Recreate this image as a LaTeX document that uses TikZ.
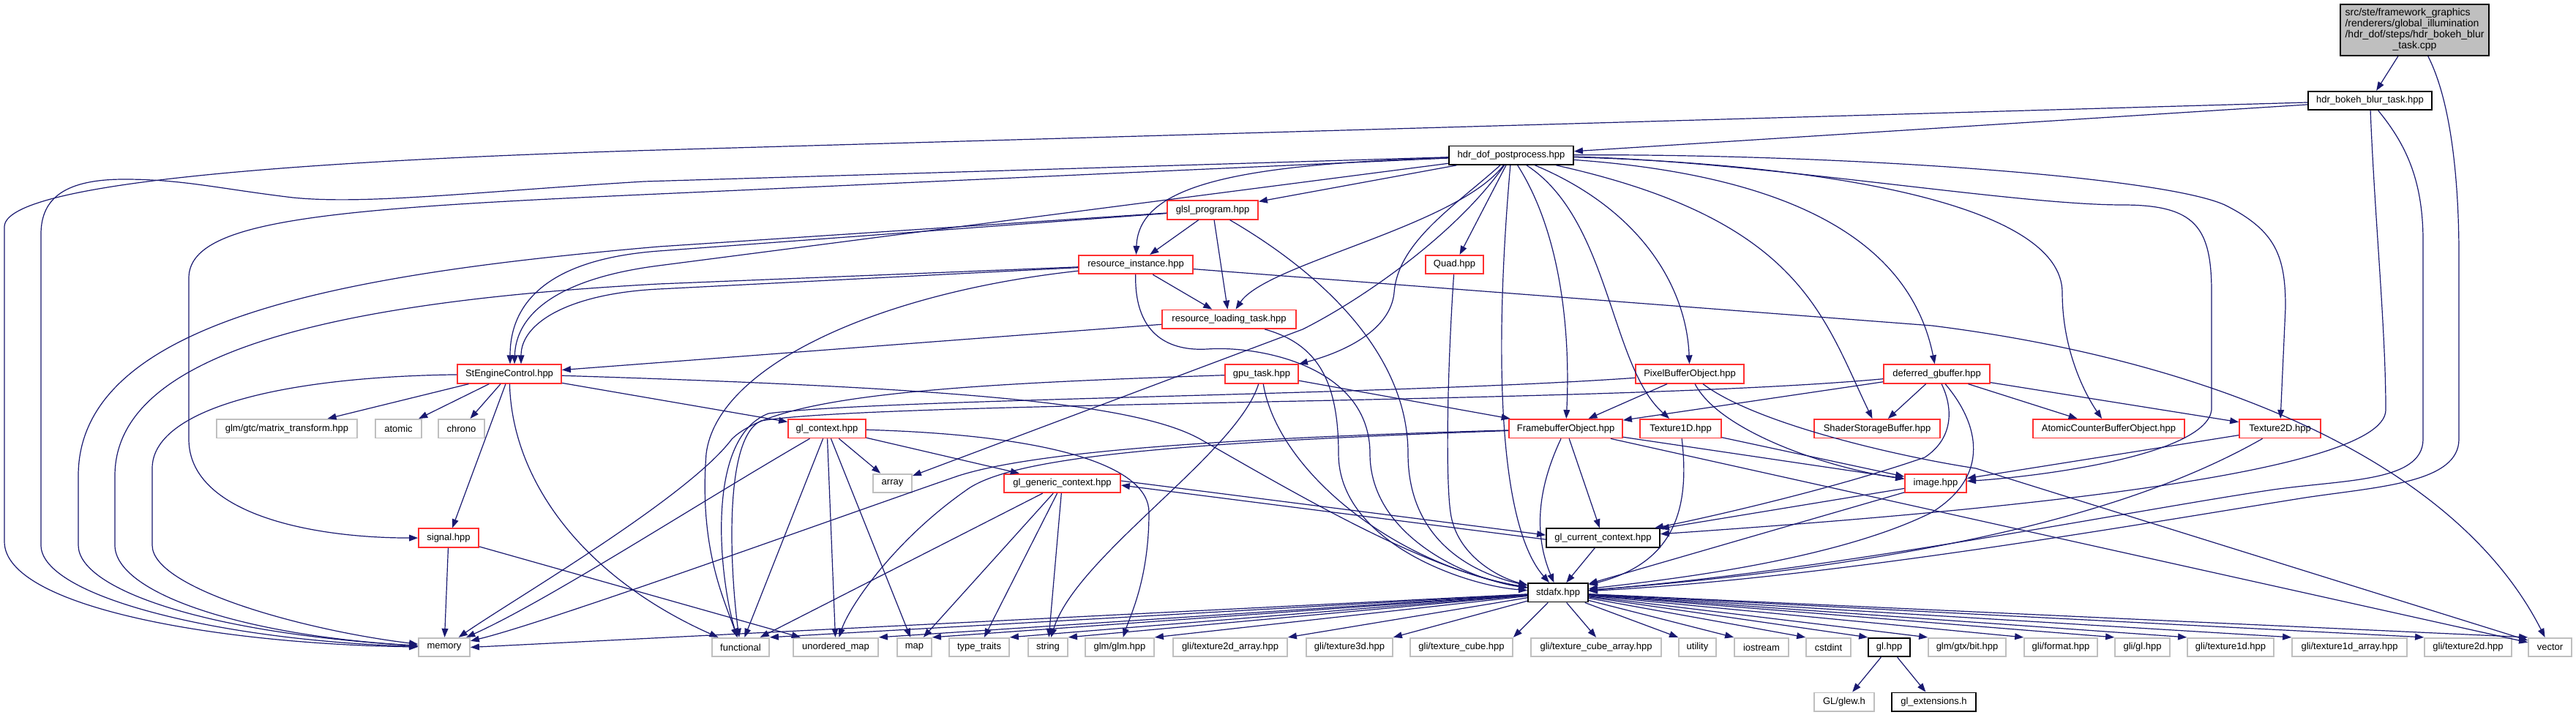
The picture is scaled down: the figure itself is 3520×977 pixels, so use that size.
\documentclass[tikz,border=0pt]{standalone}
\usepackage{fontspec}
\setmainfont{Liberation Sans}
\usetikzlibrary{arrows.meta}
\definecolor{edgec}{HTML}{191970}
\definecolor{nred}{HTML}{FF3030}
\definecolor{ngray}{HTML}{BFBFBF}
\begin{document}
\begin{tikzpicture}[x=0.5pt,y=-0.5pt,
  nd/.style={draw, fill=white, line width=0.9pt, minimum height=12.75pt, inner sep=0pt, font=\fontsize{6.5}{7.5}\selectfont},
  blk/.style={nd, draw=black},
  rd/.style={nd, draw=nred},
  gy/.style={nd, draw=ngray},
  bw/.style={minimum width=#1*0.5pt},
  edg/.style={draw=edgec, line width=0.6pt, -{Triangle[length=6pt,width=4.4pt]}}]
\fill[white] (0,0) rectangle (3520,977);
\useasboundingbox (0,0) rectangle (3520,977);
% nodes
\node[nd, draw=black, fill=ngray, minimum width=101.5pt, minimum height=35pt, font=\fontsize{7}{7.45}\selectfont] (main) at (3299.5,41)
  {\begin{tabular}{@{}l@{}}src/ste/framework\_graphics\\/renderers/global\_illumination\\/hdr\_dof/steps/hdr\_bokeh\_blur\\\multicolumn{1}{@{}c@{}}{\_task.cpp}\end{tabular}};
\node[blk,bw=169] (bokeh) at (3238.5,137.5) {hdr\_bokeh\_blur\_task.hpp};
\node[blk,bw=170] (dof) at (2065,212.2) {hdr\_dof\_postprocess.hpp};
\node[rd,bw=124] (glsl) at (1657,286.9) {glsl\_program.hpp};
\node[rd,bw=156] (resinst) at (1552,361.6) {resource\_instance.hpp};
\node[rd,bw=79] (quad) at (1987.5,361.6) {Quad.hpp};
\node[rd,bw=183] (resload) at (1679.5,436.3) {resource\_loading\_task.hpp};
\node[rd,bw=142] (steng) at (696,511) {StEngineControl.hpp};
\node[rd,bw=100] (gpu) at (1724,511) {gpu\_task.hpp};
\node[rd,bw=148] (pbo) at (2309,511) {PixelBufferObject.hpp};
\node[rd,bw=145] (defg) at (2646.5,511) {deferred\_gbuffer.hpp};
\node[gy,bw=192] (matrix) at (392,585.7) {glm/gtc/matrix\_transform.hpp};
\node[gy,bw=63] (atomic) at (544.5,585.7) {atomic};
\node[gy,bw=63] (chrono) at (630.5,585.7) {chrono};
\node[rd,bw=106] (glctx) at (1130,585.7) {gl\_context.hpp};
\node[rd,bw=155] (fbo) at (2139.5,585.7) {FramebufferObject.hpp};
\node[rd,bw=111] (tex1d) at (2296.5,585.7) {Texture1D.hpp};
\node[rd,bw=172] (ssb) at (2565,585.7) {ShaderStorageBuffer.hpp};
\node[rd,bw=207] (acbo) at (2881.5,585.7) {AtomicCounterBufferObject.hpp};
\node[rd,bw=111] (tex2d) at (3115.5,585.7) {Texture2D.hpp};
\node[gy,bw=53] (array) at (1219.5,660.4) {array};
\node[rd,bw=159] (glgen) at (1451.5,660.4) {gl\_generic\_context.hpp};
\node[rd,bw=84] (image) at (2645,660.4) {image.hpp};
\node[rd,bw=82] (signal) at (613,735.1) {signal.hpp};
\node[blk,bw=155] (glcur) at (2190.5,735.1) {gl\_current\_context.hpp};
\node[blk,bw=82] (stdafx) at (2129,809.8) {stdafx.hpp};
\node[gy,bw=70] (memory) at (607,884.5) {memory};
\node[gy,bw=78] (functional) at (1012,884.5) {functional};
\node[gy,bw=116] (umap) at (1142,884.5) {unordered\_map};
\node[gy,bw=47] (map) at (1249.5,884.5) {map};
\node[gy,bw=82] (typetraits) at (1338,884.5) {type\_traits};
\node[gy,bw=54] (string) at (1432,884.5) {string};
\node[gy,bw=94] (glm) at (1530,884.5) {glm/glm.hpp};
\node[gy,bw=156] (t2da) at (1681,884.5) {gli/texture2d\_array.hpp};
\node[gy,bw=118] (t3d) at (1844,884.5) {gli/texture3d.hpp};
\node[gy,bw=140] (tcube) at (1997,884.5) {gli/texture\_cube.hpp};
\node[gy,bw=178] (tcubea) at (2181,884.5) {gli/texture\_cube\_array.hpp};
\node[gy,bw=51] (utility) at (2319.5,884.5) {utility};
\node[gy,bw=74] (iostream) at (2407,884.5) {iostream};
\node[gy,bw=61] (cstdint) at (2498.5,884.5) {cstdint};
\node[blk,bw=57] (glhpp) at (2581.5,884.5) {gl.hpp};
\node[gy,bw=106] (gtxbit) at (2688,884.5) {glm/gtx/bit.hpp};
\node[gy,bw=100] (format) at (2816,884.5) {gli/format.hpp};
\node[gy,bw=75] (gligl) at (2927.5,884.5) {gli/gl.hpp};
\node[gy,bw=118] (t1d) at (3048,884.5) {gli/texture1d.hpp};
\node[gy,bw=157] (t1da) at (3210.5,884.5) {gli/texture1d\_array.hpp};
\node[gy,bw=119] (t2d) at (3372.5,884.5) {gli/texture2d.hpp};
\node[gy,bw=59] (vector) at (3484.5,884.5) {vector};
\node[gy,bw=82] (glew) at (2520,959.2) {GL/glew.h};
\node[blk,bw=115] (glext) at (2642.5,959.2) {gl\_extensions.h};
% main
\draw[edg] (main) -- (bokeh);
\draw[edg] (main) .. controls (3350,140) and (3360,250) .. (3360,350) -- (3360,600) .. controls (3360,660) and (3250,665) .. (3150,680) .. controls (2900,720) and (2500,790) .. (stdafx);
% bokeh
\draw[edg] (bokeh) -- (dof);
\draw[edg] (bokeh) -- (900,205) .. controls (400,220) and (6,250) .. (6,310) -- (6,740) .. controls (6,830) and (300,880) .. (memory);
\draw[edg] (bokeh) .. controls (3245,300) and (3260,450) .. (3260,560) .. controls (3260,650) and (2700,700) .. (glcur);
\draw[edg] (bokeh) .. controls (3290,200) and (3311,250) .. (3311,330) -- (3311,600) .. controls (3311,660) and (3200,655) .. (3100,670) .. controls (2900,700) and (2500,780) .. (stdafx);
% dof
\draw[edg] (dof) -- (glsl);
\draw[edg] (dof) -- (880,248) .. controls (650,262) and (500,280) .. (400,270) .. controls (300,258) and (250,245) .. (170,245) .. controls (90,245) and (56,270) .. (56,320) -- (56,745) .. controls (56,815) and (300,875) .. (memory);
\draw[edg] (dof) -- (900,265) .. controls (450,285) and (258,300) .. (258,380) -- (258,600) .. controls (258,700) and (420,735) .. (signal);
\draw[edg] (dof) -- (900,363) .. controls (760,381) and (705,430) .. ([xshift=3.5pt]steng.north);
\draw[edg] (dof) .. controls (1700,225) and (1556,250) .. (resinst);
\draw[edg] (dof) .. controls (1990,310) and (1730,360) .. (resload);
\draw[edg] (dof) -- (quad);
\draw[edg] (dof) .. controls (1990,280) and (1910,330) .. (1905,400) .. controls (1900,450) and (1840,480) .. (gpu);
\draw[edg] (dof) .. controls (1990,320) and (1860,410) .. (1780,450) -- (array);
\draw[edg] (dof) .. controls (2040,500) and (2050,720) .. (stdafx);
\draw[edg] (dof) .. controls (2140,330) and (2145,480) .. (fbo);
\draw[edg] (dof) .. controls (2200,300) and (2200,500) .. (tex1d);
\draw[edg] (dof) .. controls (2250,290) and (2305,400) .. (pbo);
\draw[edg] (dof) .. controls (2460,300) and (2490,430) .. (ssb);
\draw[edg] (dof) .. controls (2450,240) and (2610,330) .. (defg);
\draw[edg] (dof) .. controls (2500,225) and (2818,280) .. (2818,400) .. controls (2818,480) and (2850,540) .. (acbo);
\draw[edg] (dof) .. controls (2400,220) and (2750,280) .. (2900,280) .. controls (3000,280) and (3022,310) .. (3022,400) -- (3022,560) .. controls (3015,620) and (2800,650) .. (image);
\draw[edg] (dof) .. controls (2500,210) and (2950,240) .. (3040,280) .. controls (3110,315) and (3123,350) .. (3123,420) -- (tex2d);
% glsl
\draw[edg] (glsl) -- (resinst);
\draw[edg] (glsl) -- (resload);
\draw[edg] (glsl) -- (900,337) .. controls (500,372) and (107,430) .. (107,650) -- (107,745) .. controls (107,805) and (280,865) .. (memory);
\draw[edg] (glsl) -- (900,343) .. controls (740,355) and (697,420) .. ([xshift=0.5pt]steng.north);
\draw[edg] (glsl) .. controls (1800,370) and (1924,480) .. (1924,620) .. controls (1924,730) and (2000,780) .. (stdafx);
% resource_instance
\draw[edg] (resinst) -- (resload);
\draw[edg] (resinst) -- (900,388) .. controls (500,410) and (157,470) .. (157,650) -- (157,745) .. controls (157,810) and (330,868) .. (memory);
\draw[edg] (resinst) -- (900,395) .. controls (780,401) and (712,440) .. ([xshift=8pt]steng.north);
\draw[edg] (resinst) .. controls (1200,400) and (980,500) .. (965,620) .. controls (955,750) and (990,820) .. (functional);
\draw[edg] (resinst) .. controls (1550,460) and (1600,480) .. (1650,477) .. controls (1720,472) and (1872,500) .. (1872,620) .. controls (1872,730) and (2000,790) .. (stdafx);
\draw[edg] (resinst) -- (2640,445) .. controls (3000,490) and (3350,620) .. (vector);
% resource_loading_task, Quad
\draw[edg] (resload) -- (steng);
\draw[edg] (resload) .. controls (1800,470) and (1829,520) .. (1829,620) .. controls (1829,740) and (2000,800) .. (stdafx);
\draw[edg] (quad) .. controls (1978,500) and (1975,650) .. (1982,700) .. controls (1990,760) and (2050,790) .. (stdafx);
% StEngineControl
\draw[edg] (steng) .. controls (380,515) and (208,560) .. (208,640) -- (208,745) .. controls (208,805) and (420,862) .. (memory);
\draw[edg] (steng) -- (matrix);
\draw[edg] (steng) -- (atomic);
\draw[edg] (steng) -- (chrono);
\draw[edg] (steng) -- (signal);
\draw[edg] (steng) .. controls (700,660) and (800,790) .. (functional);
\draw[edg] (steng) -- (glctx);
\draw[edg] (steng) .. controls (1300,530) and (1550,550) .. (1640,600) .. controls (1780,680) and (1950,780) .. (stdafx);
% gpu_task
\draw[edg] (gpu) -- (fbo);
\draw[edg] (gpu) .. controls (1300,525) and (1060,540) .. (1000,600) .. controls (940,680) and (700,820) .. (memory);
\draw[edg] (gpu) .. controls (1690,620) and (1470,760) .. (string);
\draw[edg] (gpu) .. controls (1745,640) and (1900,770) .. (stdafx);
% PixelBufferObject
\draw[edg] (pbo) -- (fbo);
\draw[edg] (pbo) .. controls (2350,590) and (2500,640) .. (image);
\draw[edg] (pbo) .. controls (2400,580) and (2600,625) .. (2700,640) -- (vector);
\draw[edg] (pbo) .. controls (1900,540) and (1200,545) .. (1050,565) .. controls (960,600) and (985,800) .. (functional);
% deferred_gbuffer
\draw[edg] (defg) -- (fbo);
\draw[edg] (defg) -- (ssb);
\draw[edg] (defg) -- (acbo);
\draw[edg] (defg) -- (tex2d);
\draw[edg] (defg) .. controls (2200,552) and (1200,548) .. (1040,575) .. controls (985,600) and (1000,800) .. (functional);
\draw[edg] (defg) .. controls (2670,560) and (2668,600) .. (2630,625) .. controls (2500,670) and (2320,710) .. (glcur);
\draw[edg] (defg) .. controls (2705,580) and (2720,650) .. (2640,700) .. controls (2500,770) and (2250,795) .. (stdafx);
% FramebufferObject
\draw[edg] (fbo) .. controls (1700,598) and (1420,615) .. (1310,650) .. controls (1150,705) and (750,850) .. (memory);
\draw[edg] (fbo) .. controls (1600,605) and (1380,625) .. (1320,670) .. controls (1220,740) and (1160,830) .. (umap);
\draw[edg] (fbo) -- (glcur);
\draw[edg] (fbo) .. controls (2095,680) and (2100,740) .. (stdafx);
\draw[edg] (fbo) -- (image);
\draw[edg] (fbo) -- (vector);
% Texture1D, Texture2D
\draw[edg] (tex1d) -- (image);
\draw[edg] (tex1d) .. controls (2310,700) and (2285,770) .. (stdafx);
\draw[edg] (tex2d) -- (image);
\draw[edg] (tex2d) .. controls (2950,680) and (2700,765) .. (stdafx);
% gl_context
\draw[edg] (glctx) .. controls (950,690) and (750,820) .. (memory);
\draw[edg] (glctx) -- (functional);
\draw[edg] (glctx) -- (umap);
\draw[edg] (glctx) -- (map);
\draw[edg] (glctx) -- (array);
\draw[edg] (glctx) -- (glgen);
\draw[edg] (glctx) .. controls (1450,595) and (1570,640) .. (1570,700) .. controls (1570,790) and (1545,840) .. (glm);
% gl_generic_context
\draw[edg] (glgen) -- (functional);
\draw[edg] (glgen) -- (map);
\draw[edg] (glgen) -- (typetraits);
\draw[edg] (glgen) -- (string);
\draw[edg] ([yshift=1.7pt]glgen.east) -- ([yshift=2pt]glcur.west);
\draw[edg] ([yshift=-1pt]glcur.west) -- ([yshift=-1.3pt]glgen.east);
% image, gl_current_context, signal
\draw[edg] (image) -- (glcur);
\draw[edg] (image) -- (stdafx);
\draw[edg] (glcur) -- (stdafx);
\draw[edg] (signal) -- (memory);
\draw[edg] (signal) -- (umap);
% stdafx
\draw[edg] (stdafx) -- (memory.east);
\draw[edg] (stdafx) -- (functional.north east);
\draw[edg] (stdafx) -- (umap.north east);
\draw[edg] (stdafx) -- (map.north east);
\draw[edg] (stdafx) -- (typetraits.north east);
\draw[edg] (stdafx) -- (string.north east);
\draw[edg] (stdafx) -- (glm.north east);
\draw[edg] (stdafx) -- (t2da.north east);
\draw[edg] (stdafx) -- (t3d.north east);
\draw[edg] (stdafx) -- (tcube.north east);
\draw[edg] (stdafx) -- (tcubea.north);
\draw[edg] (stdafx) -- (utility.north west);
\draw[edg] (stdafx) -- (iostream.north west);
\draw[edg] (stdafx) -- (cstdint.north west);
\draw[edg] (stdafx) -- (glhpp.north west);
\draw[edg] (stdafx) -- (gtxbit.north west);
\draw[edg] (stdafx) -- (format.north west);
\draw[edg] (stdafx) -- (gligl.north west);
\draw[edg] (stdafx) -- (t1d.north west);
\draw[edg] (stdafx) -- (t1da.north west);
\draw[edg] (stdafx) -- (t2d.north west);
\draw[edg] (stdafx) -- (vector.north west);
% gl.hpp
\draw[edg] (glhpp) -- (glew);
\draw[edg] (glhpp) -- (glext);
\end{tikzpicture}
\end{document}
